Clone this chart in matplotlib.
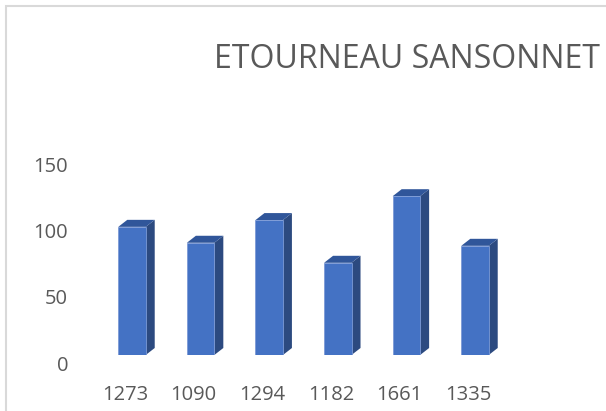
import matplotlib
matplotlib.use("Agg")
import matplotlib.pyplot as plt
from matplotlib.patches import Rectangle, Polygon
from matplotlib.transforms import ScaledTranslation
import numpy as np

categories = ["1273", "1090", "1294", "1182", "1661", "1335"]
values = [96.6, 84.6, 101.7, 69.5, 119.7, 82.3]
yticks = [0, 50, 100, 150]
title = "ETOURNEAU SANSONNET"

W, H = 606, 411
DPI = 100
fig = plt.figure(figsize=(W / DPI, H / DPI), dpi=DPI)
fig.patch.set_facecolor("white")

FONT = ["Open Sans", "DejaVu Sans"]
TXT = "#595959"

# axes placement in pixels
ax_left, ax_right = 80, 530
ax_bottom, ax_top = 355, 156  # pixel y (from top)
ax = fig.add_axes([ax_left / W, (H - ax_bottom) / H,
                   (ax_right - ax_left) / W, (ax_bottom - ax_top) / H])
ax.set_facecolor("none")

pitch = 68.6
x0 = 132
ax.set_xlim((ax_left - x0) / pitch, (ax_right - x0) / pitch)
ax.set_ylim(0, 150)
for s in ax.spines.values():
    s.set_visible(False)

x = np.arange(len(categories))
bw = 0.40
front = "#4472C4"
side = "#2C4A80"
topc = "#30569A"

# depth offsets in data units (9 px right, 7 px up)
dx = 9 / pitch
dy = 7 / ((ax_bottom - ax_top) / 150)

for xi, v in zip(x, values):
    l, r = xi - bw / 2, xi + bw / 2
    ax.add_patch(Polygon([(r, 0), (r + dx, dy), (r + dx, v + dy), (r, v)],
                         closed=True, facecolor=side, edgecolor="none", zorder=2))
    ax.add_patch(Polygon([(l, v), (l + dx, v + dy), (r + dx, v + dy), (r, v)],
                         closed=True, facecolor=topc, edgecolor="none", zorder=2))
ax.bar(x, values, width=bw, color=front, edgecolor="#7C9AD6", linewidth=0.6, zorder=3)

ax.set_xticks(x)
ax.set_xticklabels(categories, fontsize=14.5, color=TXT, family=FONT)
ax.set_yticks(yticks)
ax.set_yticklabels([str(t) for t in yticks], fontsize=14.5, color=TXT, family=FONT)
ax.tick_params(axis="x", length=0, pad=21.5)
ax.tick_params(axis="y", length=0, pad=8.6)

offx = ScaledTranslation(-7 / DPI, 0, fig.dpi_scale_trans)
for lab in ax.get_xticklabels():
    lab.set_transform(lab.get_transform() + offx)
offy = ScaledTranslation(0, -8 / DPI, fig.dpi_scale_trans)
for lab in ax.get_yticklabels():
    lab.set_transform(lab.get_transform() + offy)

fig.text(600 / W, (H - 68.3) / H, title, ha="right", va="baseline",
         fontsize=23, color=TXT, family=FONT)

# chart border
fig.patches.append(Rectangle((6 / W, -0.1), 1.2, (H - 6) / H + 0.1,
                             transform=fig.transFigure, fill=False,
                             edgecolor="#D9D9D9", linewidth=1.5))

fig.savefig("out.png", dpi=DPI)
